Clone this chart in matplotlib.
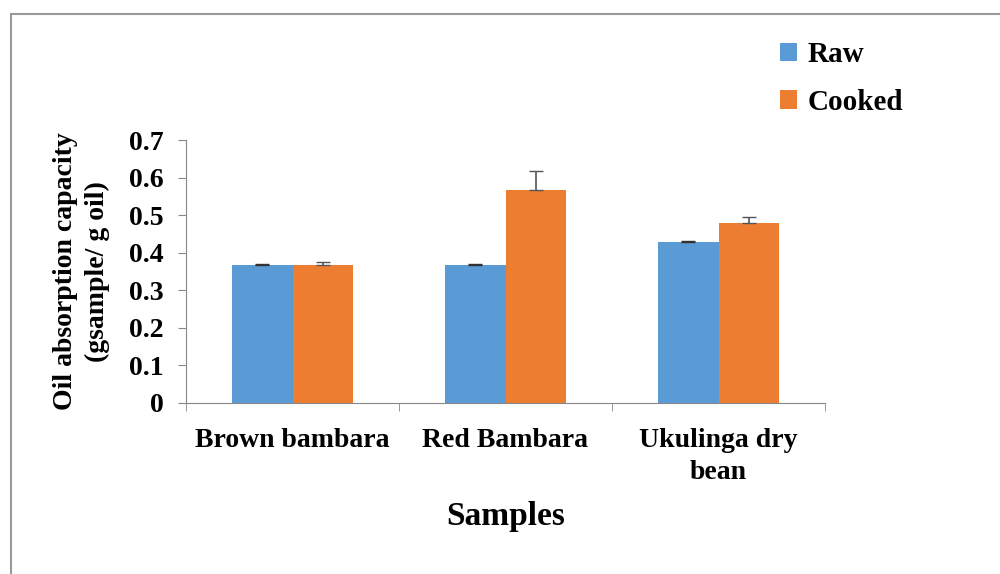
import numpy as np
import matplotlib.pyplot as plt
from matplotlib.lines import Line2D

samples = ['Brown bambara', 'Red Bambara', 'Ukulinga dry\nbean']
raw = [0.367, 0.367, 0.429]
cooked = [0.367, 0.568, 0.480]
raw_err = [0.002, 0.002, 0.002]
cooked_err = [0.008, 0.050, 0.015]

plt.rcParams['font.family'] = 'Liberation Serif'
plt.rcParams['font.weight'] = 'bold'

fig = plt.figure(figsize=(10, 5.74), dpi=100)
ax = fig.add_axes([0.186, 0.298, 0.639, 0.458])

x = np.arange(len(samples))
w = 0.285
zeros = [0, 0, 0]
ax.bar(x - w/2, raw, w, color='#5b9bd5', label='Raw',
       yerr=[zeros, raw_err], error_kw=dict(ecolor='#333333', capsize=5, elinewidth=1.2))
ax.bar(x + w/2, cooked, w, color='#ed7d31', label='Cooked',
       yerr=[zeros, cooked_err], error_kw=dict(ecolor='#555555', capsize=5, elinewidth=1.2))

ax.set_xlim(-0.5, 2.5)
ax.set_ylim(0, 0.7)
ax.set_yticks(np.arange(0, 0.71, 0.1))
ax.set_yticklabels(['0', '0.1', '0.2', '0.3', '0.4', '0.5', '0.6', '0.7'], fontsize=20, fontweight='bold')
ax.set_xticks(x)
ax.set_xticklabels(samples, fontsize=20, fontweight='bold', linespacing=1.35)
ax.tick_params(axis='x', length=0, pad=18)
ax.set_xticks([-0.5, 0.5, 1.5, 2.5], minor=True)
ax.tick_params(axis='x', which='minor', length=6, color='#888888')
ax.tick_params(axis='y', length=6, color='#888888', pad=10)
for s in ['top', 'right']:
    ax.spines[s].set_visible(False)
for s in ['left', 'bottom']:
    ax.spines[s].set_color('#888888')

ax.set_xlabel('Samples', fontsize=24, fontweight='bold', labelpad=12)
ax.set_ylabel('Oil absorption capacity\n(gsample/ g oil)', fontsize=20, fontweight='bold',
              labelpad=14, linespacing=1.35)

ax.legend(loc='upper left', bbox_to_anchor=(0.888, 1.475), frameon=False,
          prop={'size': 21, 'weight': 'bold'}, handlelength=0.6, handleheight=0.6,
          handletextpad=0.35, labelspacing=0.7)

fig.add_artist(Line2D([0.011, 1.0], [1 - 14/574, 1 - 14/574], color='#999999', lw=1.5))
fig.add_artist(Line2D([0.011, 0.011], [0, 1 - 14/574], color='#999999', lw=1.5))

fig.savefig('out.png', dpi=100)
